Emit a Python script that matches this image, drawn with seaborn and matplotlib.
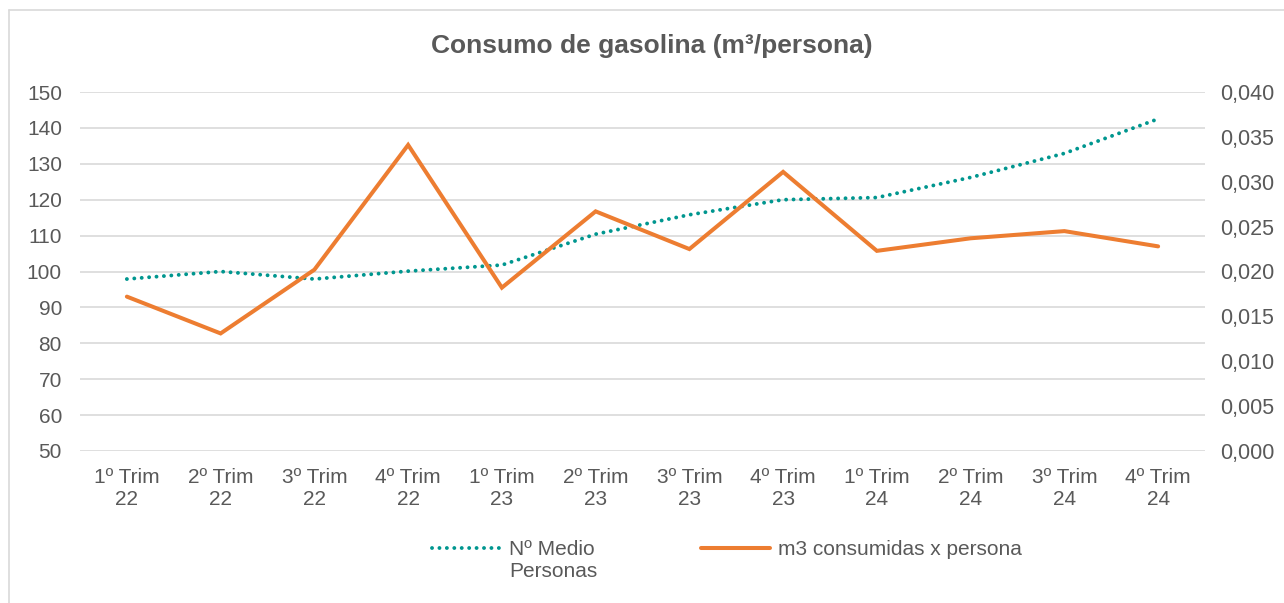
import pandas as pd
import seaborn as sns
import matplotlib.pyplot as plt
from matplotlib.ticker import FuncFormatter, MultipleLocator
from matplotlib.lines import Line2D

# values
quarters = ['1º Trim\n22', '2º Trim\n22', '3º Trim\n22', '4º Trim\n22',
            '1º Trim\n23', '2º Trim\n23', '3º Trim\n23', '4º Trim\n23',
            '1º Trim\n24', '2º Trim\n24', '3º Trim\n24', '4º Trim\n24']
medio_personas = [97.9, 100.0, 97.9, 100.1, 101.8, 110.4, 115.8, 120.0, 120.6, 126.2, 132.9, 142.5]
m3_persona = [0.0172, 0.0131, 0.0202, 0.0341, 0.0182, 0.0267, 0.0225, 0.0311, 0.0223, 0.0237, 0.0245, 0.0228]

label_personas = 'Nº Medio\nPersonas'
label_m3 = 'm3 consumidas x persona'

TEAL = '#00968F'
ORANGE = '#ED7D31'
GREY_TXT = '#595959'
GRID = '#D9D9D9'

sns.set_style('white')
plt.rcParams['font.family'] = ['Liberation Sans', 'DejaVu Sans']

df = pd.DataFrame({'trim': quarters, 'personas': medio_personas, 'm3': m3_persona})

fig = plt.figure(figsize=(12.84, 6.03), dpi=100)
ax = fig.add_axes([80/1284, 1-451/603, 1125/1284, 359/603])
ax2 = ax.twinx()

dot_style = dict(color=TEAL, lw=2.8, linestyle=(0, (0.01, 1.9)), dash_capstyle='round')
sns.lineplot(data=df, x='trim', y='personas', ax=ax, sort=False, **dot_style)
sns.lineplot(data=df, x='trim', y='m3', ax=ax2, sort=False, color=ORANGE, lw=2.9,
             solid_joinstyle='miter')

# left axis
ax.set_ylim(50, 150)
ax.yaxis.set_major_locator(MultipleLocator(10))
ax.set_xlim(-0.5, len(quarters) - 0.5)
ax.grid(axis='y', color=GRID, lw=1.2)
ax.set_axisbelow(True)
ax.set_xlabel('')
ax.set_ylabel('')
ax.tick_params(axis='y', length=0, labelsize=15, labelcolor=GREY_TXT, pad=13)
ax.tick_params(axis='x', length=0, labelsize=15, labelcolor=GREY_TXT, pad=12)
for t in ax.get_xticklabels():
    t.set_linespacing(1.25)

# right axis
ax2.set_ylim(0, 0.04)
ax2.yaxis.set_major_locator(MultipleLocator(0.005))
ax2.yaxis.set_major_formatter(FuncFormatter(lambda v, _: '{:.3f}'.format(v).replace('.', ',')))
ax2.grid(False)
ax2.set_ylabel('')
ax2.tick_params(axis='y', length=0, labelsize=15.5, labelcolor=GREY_TXT, pad=11)

for a in (ax, ax2):
    for s in a.spines.values():
        s.set_visible(False)

fig.text(652/1284, 1-46/603, 'Consumo de gasolina (m³/persona)', ha='center', va='center',
         fontsize=19, fontweight='bold', color=GREY_TXT)

handles = [Line2D([], [], **dot_style), Line2D([], [], color=ORANGE, lw=2.9)]
leg = fig.legend(handles, [label_personas, label_m3], loc='upper center',
                 bbox_to_anchor=(727/1284, 1-521/603), ncol=2, frameon=False, fontsize=15,
                 handlelength=3.3, handleheight=1.1, handletextpad=0.4, columnspacing=5,
                 labelcolor=GREY_TXT)
for t in leg.get_texts():
    t.set_multialignment('left')
# keep handles level with the first line of each label, like the original
leg._legend_handle_box.align = 'top'
for col in leg._legend_handle_box.get_children():
    for row in col.get_children():
        row.align = 'top'

# light chart border (left and top)
fig.add_artist(Line2D([9/1284, 9/1284], [0, 1-10/603], transform=fig.transFigure, color=GRID, lw=1.2))
fig.add_artist(Line2D([9/1284, 1], [1-10/603, 1-10/603], transform=fig.transFigure, color=GRID, lw=1.2))

fig.savefig('out.png', dpi=100)
